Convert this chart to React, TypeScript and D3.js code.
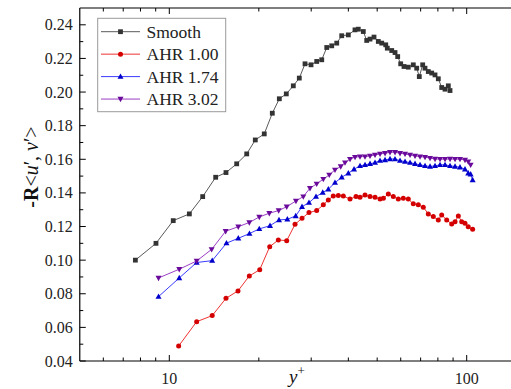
import React from "react";
import * as d3 from "d3";

const smoothX = [7.69, 9.02, 10.31, 11.68, 12.95, 14.32, 15.51, 16.85, 18.21, 19.46, 20.86, 22.2, 23.44, 24.74, 26.12, 27.36, 28.6, 29.96, 31.31, 32.55, 33.84, 35.17, 36.56, 38.0, 39.99, 42.11, 43.2, 44.91, 46.11, 47.3, 48.79, 50.44, 51.79, 53.43, 54.08, 55.96, 57.41, 58.61, 59.99, 61.54, 63.62, 66.14, 67.9, 69.28, 71.12, 72.41, 74.28, 76.26, 78.24, 80.27, 82.41, 84.54, 86.73, 87.88];
const smoothY = [0.1, 0.11, 0.1235, 0.1275, 0.1378, 0.1493, 0.1521, 0.1573, 0.1632, 0.1715, 0.1751, 0.1874, 0.196, 0.1989, 0.2037, 0.2083, 0.2168, 0.2162, 0.2182, 0.2192, 0.2265, 0.2275, 0.2291, 0.2335, 0.234, 0.237, 0.2374, 0.236, 0.2307, 0.2315, 0.2327, 0.2301, 0.2291, 0.2281, 0.2261, 0.2247, 0.2235, 0.2211, 0.2168, 0.2152, 0.2148, 0.2162, 0.2142, 0.2092, 0.2162, 0.2142, 0.2122, 0.2113, 0.2102, 0.2079, 0.2027, 0.2017, 0.2037, 0.2009];

const ahr100X = [10.75, 12.36, 13.94, 15.51, 17.02, 18.58, 20.14, 21.76, 23.26, 24.82, 26.47, 27.94, 29.49, 31.3, 32.95, 34.25, 35.59, 37.01, 38.47, 40.52, 42.45, 43.78, 45.51, 47.31, 49.18, 51.12, 52.45, 54.51, 56.65, 58.88, 61.21, 63.62, 66.13, 68.75, 71.46, 74.28, 77.21, 80.26, 82.4, 85.66, 89.04, 91.37, 93.72, 96.21, 98.69, 101.2, 104.7];
const ahr100Y = [0.0489, 0.0634, 0.067, 0.0773, 0.0817, 0.0906, 0.0943, 0.108, 0.112, 0.1116, 0.1213, 0.1249, 0.1283, 0.1295, 0.1329, 0.1358, 0.1382, 0.1384, 0.1382, 0.1363, 0.1378, 0.1374, 0.1388, 0.1378, 0.1374, 0.1363, 0.1368, 0.1394, 0.1378, 0.1363, 0.1368, 0.1363, 0.1335, 0.1329, 0.1315, 0.1275, 0.1259, 0.1239, 0.1269, 0.1239, 0.1215, 0.1229, 0.1263, 0.1229, 0.122, 0.1199, 0.1184];

const ahr174X = [9.2, 10.8, 12.36, 13.94, 15.57, 17.06, 18.6, 20.07, 21.81, 23.38, 24.94, 26.61, 27.94, 29.49, 31.14, 32.8, 34.25, 36.07, 38.0, 39.99, 41.8, 43.78, 45.51, 47.31, 49.18, 51.12, 53.14, 55.23, 57.41, 59.68, 62.04, 64.49, 67.03, 69.68, 72.43, 75.29, 78.26, 81.35, 84.56, 87.9, 91.37, 94.94, 98.69, 101.2, 103.1, 104.7];
const ahr174Y = [0.0783, 0.0894, 0.0986, 0.0997, 0.1101, 0.113, 0.1158, 0.1186, 0.1205, 0.1239, 0.1243, 0.1263, 0.1318, 0.1342, 0.1378, 0.1402, 0.1422, 0.1461, 0.1493, 0.1517, 0.1541, 0.1561, 0.1567, 0.1573, 0.158, 0.1592, 0.1596, 0.1602, 0.1601, 0.1592, 0.1586, 0.158, 0.1573, 0.1567, 0.1561, 0.1557, 0.1561, 0.1567, 0.1567, 0.1561, 0.1557, 0.1553, 0.1541, 0.1517, 0.1511, 0.1477];

const ahr302X = [9.2, 10.8, 12.36, 13.88, 15.47, 17.06, 18.58, 20.07, 21.69, 23.32, 24.82, 26.66, 28.22, 29.72, 31.3, 32.95, 34.5, 36.07, 37.71, 38.98, 40.52, 42.12, 43.78, 45.51, 47.31, 49.18, 51.12, 53.14, 55.23, 57.41, 59.68, 62.04, 64.49, 67.03, 69.68, 72.43, 75.29, 78.26, 81.35, 84.56, 87.9, 91.37, 94.94, 98.69, 101.2, 103.1];
const ahr302Y = [0.0894, 0.0946, 0.0995, 0.1064, 0.1172, 0.1199, 0.1224, 0.1257, 0.1279, 0.1295, 0.1318, 0.1352, 0.1378, 0.1428, 0.1454, 0.1482, 0.1507, 0.1537, 0.1557, 0.158, 0.1601, 0.1613, 0.1616, 0.1616, 0.162, 0.1626, 0.1632, 0.1636, 0.1642, 0.1642, 0.1636, 0.1632, 0.1626, 0.162, 0.1616, 0.1613, 0.1607, 0.1602, 0.1601, 0.1601, 0.1602, 0.1601, 0.1601, 0.1596, 0.1586, 0.1567];

const seriesNames = ["Smooth", "AHR 1.00", "AHR 1.74", "AHR 3.02"];
const yTickValues = [0.04, 0.06, 0.08, 0.1, 0.12, 0.14, 0.16, 0.18, 0.2, 0.22, 0.24];
const xMajorTicks = [10, 100];

const W = 511;
const H = 389;
const FONT = "Liberation Serif, DejaVu Serif, serif";

type Series = {
  name: string;
  xs: number[];
  ys: number[];
  line: string;
  fill: string;
  marker: "square" | "circle" | "up" | "down";
};

const series: Series[] = [
  { name: seriesNames[0], xs: smoothX, ys: smoothY, line: "#5a5a5a", fill: "#333333", marker: "square" },
  { name: seriesNames[1], xs: ahr100X, ys: ahr100Y, line: "#ee3333", fill: "#d40000", marker: "circle" },
  { name: seriesNames[2], xs: ahr174X, ys: ahr174Y, line: "#3c3cff", fill: "#0000cc", marker: "up" },
  { name: seriesNames[3], xs: ahr302X, ys: ahr302Y, line: "#9a3fc4", fill: "#6a0a9a", marker: "down" },
];

function Marker({ kind, x, y, fill }: { kind: string; x: number; y: number; fill: string }) {
  if (kind === "square") return <rect x={x - 2.4} y={y - 2.4} width={4.8} height={4.8} fill={fill} />;
  if (kind === "circle") return <circle cx={x} cy={y} r={2.5} fill={fill} />;
  if (kind === "up") return <path d={`M${x},${y - 3.2}L${x + 3},${y + 2.2}L${x - 3},${y + 2.2}Z`} fill={fill} />;
  return <path d={`M${x},${y + 3.2}L${x + 3},${y - 2.2}L${x - 3},${y - 2.2}Z`} fill={fill} />;
}

export default function App() {
  const x = d3.scaleLog().domain([10, 100]).range([169.3, 466.7]);
  const xDomain: [number, number] = [5, 150];
  const left = x(xDomain[0]);
  const right = x(xDomain[1]);
  const y = d3.scaleLinear().domain([0.04, 0.25]).range([361, 8]);
  const top = y(0.25);
  const bottom = y(0.04);

  const minorX: number[] = [];
  for (const dec of [1, 10, 100]) {
    for (let k = 1; k <= 9; k++) {
      const v = dec * k;
      if (v > xDomain[0] && v < xDomain[1] && !xMajorTicks.includes(v)) minorX.push(v);
    }
  }
  const minorY = d3.range(0.05, 0.25, 0.02);
  const textStyle = { fontFamily: FONT };

  return (
    <svg width={W} height={H} style={{ position: "absolute", left: 0, top: 0, background: "#fff" }}>
      <rect width={W} height={H} fill="#fff" />
      {series.map((s) => {
        const pts = s.xs.map((xv, i) => [x(xv), y(s.ys[i])] as [number, number]);
        const path = d3.line()(pts) || "";
        return (
          <g key={s.name}>
            <path d={path} fill="none" stroke={s.line} strokeWidth={1} />
            {pts.map((p, i) => (
              <Marker key={i} kind={s.marker} x={p[0]} y={p[1]} fill={s.fill} />
            ))}
          </g>
        );
      })}
      {/* frame */}
      <line x1={left} x2={left} y1={top} y2={bottom} stroke="#000" strokeWidth={1.2} />
      <line x1={left} x2={right} y1={bottom} y2={bottom} stroke="#000" strokeWidth={1.2} />
      <line x1={left} x2={right} y1={top} y2={top} stroke="#000" strokeWidth={1.2} />
      {/* x ticks */}
      {xMajorTicks.map((t) => (
        <g key={"xm" + t}>
          <line x1={x(t)} x2={x(t)} y1={bottom} y2={bottom - 6} stroke="#000" strokeWidth={1} />
          <line x1={x(t)} x2={x(t)} y1={top} y2={top + 6} stroke="#000" strokeWidth={1} />
          <text x={x(t)} y={bottom + 23} textAnchor="middle" style={textStyle} fontSize={16} fill="#222">
            {t}
          </text>
        </g>
      ))}
      {minorX.map((t) => (
        <g key={"xn" + t}>
          <line x1={x(t)} x2={x(t)} y1={bottom} y2={bottom - 3.5} stroke="#000" strokeWidth={1} />
          <line x1={x(t)} x2={x(t)} y1={top} y2={top + 3.5} stroke="#000" strokeWidth={1} />
        </g>
      ))}
      {/* y ticks */}
      {yTickValues.map((t) => (
        <g key={"ym" + t}>
          <line x1={left} x2={left + 6} y1={y(t)} y2={y(t)} stroke="#000" strokeWidth={1} />
          <text x={left - 7} y={y(t) + 5.5} textAnchor="end" style={textStyle} fontSize={16} fill="#222">
            {t.toFixed(2)}
          </text>
        </g>
      ))}
      {minorY.map((t) => (
        <line key={"yn" + t} x1={left} x2={left + 3.5} y1={y(t)} y2={y(t)} stroke="#000" strokeWidth={1} />
      ))}
      {/* axis titles */}
      <text
        transform={`translate(38,167) rotate(-90)`}
        textAnchor="middle"
        style={textStyle}
        fontSize={20}
        fill="#111"
      >
        <tspan fontWeight="bold">-R</tspan>
        <tspan>&lt;</tspan>
        <tspan fontStyle="italic">u</tspan>
        <tspan>′, </tspan>
        <tspan fontStyle="italic">v</tspan>
        <tspan>′&gt;</tspan>
      </text>
      <text x={289} y={383} style={textStyle} fontSize={19} fill="#111">
        <tspan fontStyle="italic">y</tspan>
        <tspan fontSize={13} dy={-8}>+</tspan>
      </text>
      {/* legend */}
      <g>
        <rect x={97.7} y={18.3} width={128} height={93.4} fill="#fff" stroke="#9a9a9a" strokeWidth={1} />
        {series.map((s, i) => {
          const cy = 31.7 + i * 22.45;
          return (
            <g key={"lg" + s.name}>
              <line x1={101} x2={140} y1={cy} y2={cy} stroke={s.line} strokeWidth={1} />
              <Marker kind={s.marker} x={120.5} y={cy} fill={s.fill} />
              <text x={146.5} y={cy + 6} style={textStyle} fontSize={17.5} fill="#222">
                {s.name}
              </text>
            </g>
          );
        })}
      </g>
    </svg>
  );
}
